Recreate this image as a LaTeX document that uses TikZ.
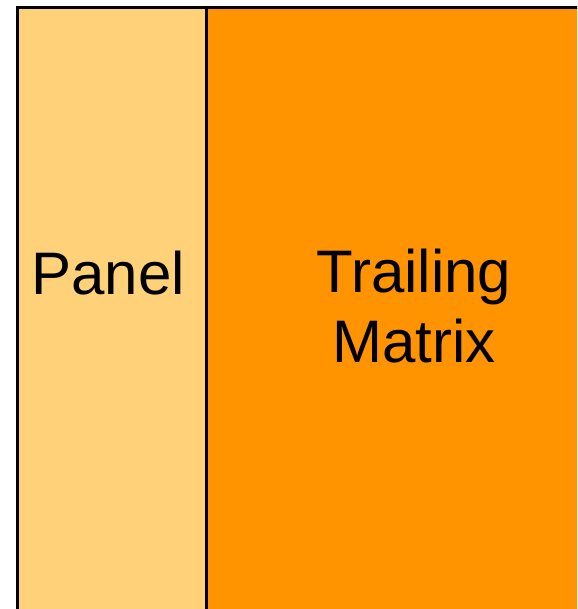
\documentclass[tikz,border=0pt]{standalone}
\usepackage{fontspec}
\setmainfont{Liberation Sans}
\definecolor{panelcol}{RGB}{255,210,122}
\definecolor{trailcol}{RGB}{255,147,0}
\begin{document}
\begin{tikzpicture}[x=0.75pt,y=0.75pt,yscale=-1,xscale=1,
  block/.style={draw=black,line width=2.2pt},
  lbl/.style={font=\fontsize{45}{52.5}\selectfont,align=center,text=black}]
\clip (0,0) rectangle (577,609);

\draw [block,fill=trailcol] (206.5,7.5) rectangle (620,650) ;
\draw [block,fill=panelcol] (17.5,7.5) rectangle (206.5,650) ;

\draw (108,273) node [lbl] (panel) {Panel};
\draw (414,306) node [lbl] (trailing) {Trailing\\Matrix};

\end{tikzpicture}
\end{document}
